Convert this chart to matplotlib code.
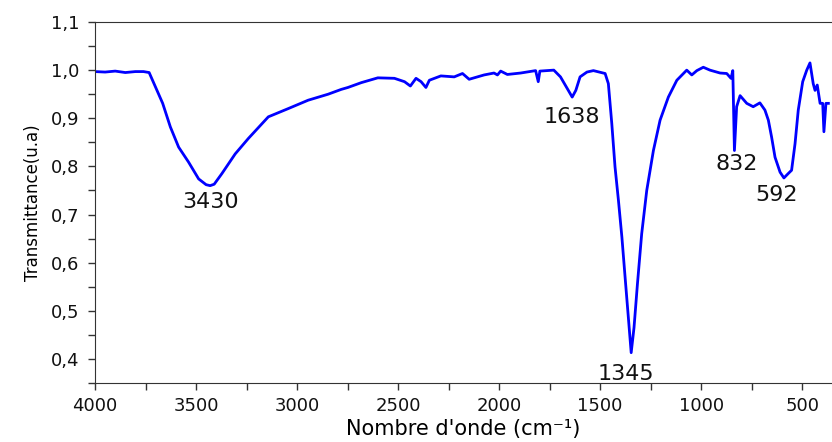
import numpy as np
import matplotlib
matplotlib.use('Agg')
import matplotlib.pyplot as plt
from matplotlib.ticker import MultipleLocator, FuncFormatter

# spectrum points (wavenumber, transmittance)
wavenumber = [4000, 3950, 3900, 3850, 3800, 3760, 3732, 3665, 3627, 3586, 3537, 3487, 3450,
              3430, 3410, 3372, 3306, 3241, 3142, 3044, 2945, 2846, 2781, 2748, 2682,
              2600, 2518, 2468, 2439, 2411, 2386, 2362, 2345, 2288, 2222, 2181, 2148,
              2107, 2074, 2025, 2008, 1992, 1959, 1893, 1819, 1806, 1798, 1729, 1696,
              1660, 1638, 1620, 1599, 1565, 1533, 1475, 1459, 1442, 1426, 1409, 1392, 1376,
              1360, 1346, 1332, 1315, 1294, 1269, 1236, 1203, 1162, 1120, 1071, 1046,
              1021, 989, 956, 906, 873, 852, 843, 835, 824, 807, 774, 742, 709, 684,
              667, 651, 634, 609, 590, 569, 552, 535, 519, 497, 477, 461, 445, 436,
              425, 411, 398, 392, 382, 370]
transmittance = [0.997, 0.996, 0.998, 0.995, 0.997, 0.997, 0.995, 0.931, 0.882, 0.840, 0.809,
                 0.774, 0.762, 0.760, 0.763, 0.785, 0.826, 0.858, 0.903, 0.920, 0.9375,
                 0.950, 0.960, 0.964, 0.974, 0.984, 0.983, 0.976, 0.967, 0.983, 0.976,
                 0.964, 0.979, 0.988, 0.986, 0.993, 0.981, 0.986, 0.990, 0.994, 0.990,
                 0.998, 0.991, 0.994, 0.999, 0.976, 0.998, 1.000, 0.986, 0.960, 0.944,
                 0.958, 0.986, 0.996, 0.999, 0.993, 0.972, 0.889, 0.799, 0.729, 0.653,
                 0.569, 0.486, 0.413, 0.465, 0.556, 0.660, 0.750, 0.833, 0.896, 0.944,
                 0.979, 1.000, 0.990, 0.999, 1.006, 1.000, 0.994, 0.993, 0.983, 0.999,
                 0.833, 0.924, 0.947, 0.931, 0.924, 0.932, 0.917, 0.896, 0.861, 0.819,
                 0.788, 0.776, 0.785, 0.792, 0.847, 0.917, 0.976, 1.000, 1.015, 0.972,
                 0.958, 0.969, 0.931, 0.931, 0.872, 0.931, 0.931]

# peak labels
peak_text = ['3430', '1638', '1345', '832', '592']
peak_x = [3429, 1638, 1371, 824, 624]
peak_y = [0.727, 0.902, 0.369, 0.806, 0.740]

plt.rcParams['font.family'] = ['DejaVu Sans']

fig = plt.figure(figsize=(8.32, 4.42), dpi=100)
ax = fig.add_axes([95/832, 1 - 383/442, 1 - 95/832, (383 - 22)/442])

ax.plot(wavenumber, transmittance, color='#0000ff', lw=2.0)

for t, x, y in zip(peak_text, peak_x, peak_y):
    ax.text(x, y, t, fontsize=16, ha='center', va='center', color='#111111')

ax.set_xlim(4000, 352)
ax.set_ylim(0.35, 1.1)
ax.xaxis.set_major_locator(MultipleLocator(500))
ax.xaxis.set_minor_locator(MultipleLocator(250))
ax.yaxis.set_major_locator(MultipleLocator(0.1))
ax.yaxis.set_minor_locator(MultipleLocator(0.05))
ax.yaxis.set_major_formatter(FuncFormatter(lambda v, p: ('%.1f' % v).replace('.', ',')))

ax.tick_params(which='both', direction='out', length=5, width=1, labelsize=13,
               colors='#333333', labelcolor='#111111')
ax.tick_params(axis='y', pad=6)
ax.tick_params(axis='x', pad=5)
ax.spines['right'].set_visible(False)
for s in ['left', 'bottom', 'top']:
    ax.spines[s].set_color('#333333')

ax.set_xlabel("Nombre d'onde (cm⁻¹)", fontsize=15, labelpad=3)
ax.set_ylabel('Transmittance(u.a)', fontsize=12, labelpad=7)

fig.savefig('out.png', dpi=100)
